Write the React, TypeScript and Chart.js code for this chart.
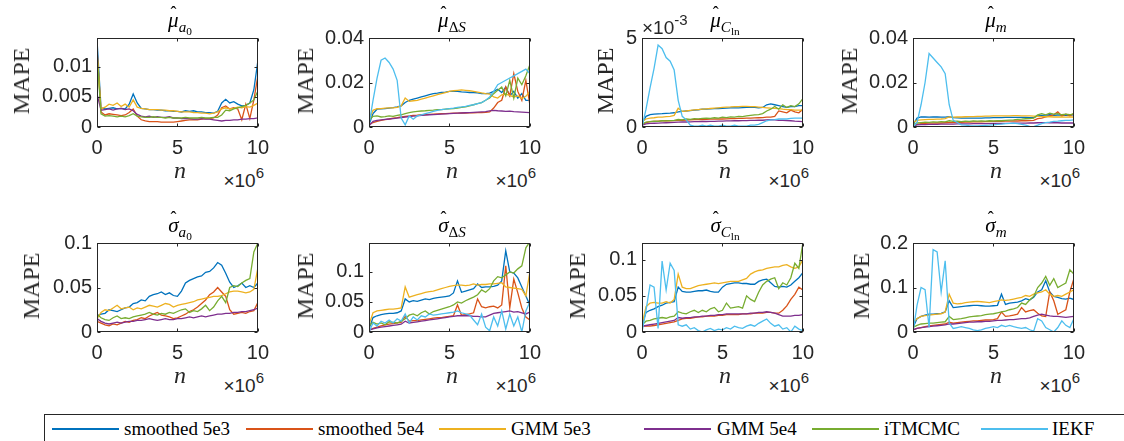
import React, { useEffect, useRef } from 'react';
import { Chart, registerables } from 'chart.js';

Chart.register(...registerables);

// ---------------- data ----------------
const nValues = [0, 0.25, 0.5, 0.75, 1, 1.25, 1.5, 1.75, 2, 2.25, 2.5, 2.75, 3, 3.25, 3.5, 3.75, 4, 4.25, 4.5, 4.75, 5, 5.25, 5.5, 5.75, 6, 6.25, 6.5, 6.75, 7, 7.25, 7.5, 7.75, 8, 8.25, 8.5, 8.75, 9, 9.25, 9.5, 9.75, 10];
const xTicks = [0, 5, 10];
const seriesNames = ['smoothed 5e3', 'smoothed 5e4', 'GMM 5e3', 'GMM 5e4', 'iTMCMC', 'IEKF'];
const seriesColors = ['#0072BD', '#D95319', '#EDB120', '#7E2F8E', '#77AC30', '#4DBEEE'];

// mu_a0
const muA0_s5e3 = [0.0145, 0.0032, 0.0030, 0.0031, 0.0032, 0.0030, 0.0031, 0.0030, 0.0038, 0.0055, 0.0040, 0.0031, 0.0030, 0.0029, 0.0029, 0.0028, 0.0028, 0.0027, 0.0027, 0.0026, 0.0026, 0.0025, 0.0027, 0.0026, 0.0027, 0.0025, 0.0025, 0.0024, 0.0024, 0.0023, 0.0026, 0.0040, 0.0046, 0.0040, 0.0042, 0.0038, 0.0035, 0.0036, 0.0040, 0.0062, 0.0110];
const muA0_s5e4 = [0.0130, 0.0025, 0.0020, 0.0022, 0.0021, 0.0020, 0.0019, 0.0020, 0.0024, 0.0030, 0.0018, 0.0012, 0.0010, 0.0009, 0.0009, 0.0009, 0.0008, 0.0008, 0.0008, 0.0008, 0.0009, 0.0010, 0.0011, 0.0012, 0.0012, 0.0012, 0.0013, 0.0014, 0.0014, 0.0015, 0.0020, 0.0032, 0.0035, 0.0030, 0.0032, 0.0030, 0.0012, 0.0038, 0.0014, 0.0045, 0.0085];
const muA0_g5e3 = [0.0125, 0.0030, 0.0033, 0.0038, 0.0036, 0.0040, 0.0034, 0.0038, 0.0033, 0.0045, 0.0033, 0.0031, 0.0030, 0.0029, 0.0029, 0.0029, 0.0028, 0.0028, 0.0027, 0.0027, 0.0026, 0.0025, 0.0025, 0.0025, 0.0024, 0.0024, 0.0023, 0.0023, 0.0022, 0.0023, 0.0025, 0.0030, 0.0032, 0.0030, 0.0031, 0.0033, 0.0032, 0.0034, 0.0033, 0.0036, 0.0040];
const muA0_g5e4 = [0.0055, 0.0028, 0.0029, 0.0030, 0.0028, 0.0030, 0.0031, 0.0029, 0.0030, 0.0027, 0.0021, 0.0018, 0.0017, 0.0018, 0.0016, 0.0017, 0.0016, 0.0016, 0.0017, 0.0015, 0.0015, 0.0014, 0.0014, 0.0014, 0.0013, 0.0013, 0.0014, 0.0013, 0.0013, 0.0012, 0.0011, 0.0010, 0.0011, 0.0011, 0.0012, 0.0012, 0.0013, 0.0013, 0.0014, 0.0014, 0.0015];
const muA0_itm = [0.0120, 0.0022, 0.0018, 0.0019, 0.0018, 0.0017, 0.0018, 0.0017, 0.0019, 0.0022, 0.0018, 0.0017, 0.0016, 0.0016, 0.0017, 0.0016, 0.0016, 0.0015, 0.0016, 0.0015, 0.0015, 0.0015, 0.0016, 0.0015, 0.0015, 0.0015, 0.0016, 0.0015, 0.0015, 0.0016, 0.0016, 0.0020, 0.0028, 0.0027, 0.0030, 0.0032, 0.0034, 0.0036, 0.0040, 0.0045, 0.0060];
const muA0_iekf: number[] = [];

// mu_dS
const muDS_s5e3 = [0.001, 0.006, 0.008, 0.0082, 0.0083, 0.0085, 0.0087, 0.009, 0.0095, 0.011, 0.012, 0.0125, 0.013, 0.0135, 0.014, 0.0145, 0.015, 0.0152, 0.0155, 0.0157, 0.016, 0.016, 0.016, 0.0158, 0.0157, 0.0155, 0.0155, 0.0153, 0.015, 0.015, 0.0152, 0.016, 0.017, 0.0155, 0.018, 0.014, 0.016, 0.013, 0.015, 0.012, 0.012];
const muDS_s5e4 = [0.001, 0.002, 0.0025, 0.003, 0.0033, 0.0036, 0.004, 0.0042, 0.0045, 0.0048, 0.005, 0.0052, 0.0053, 0.0055, 0.0056, 0.0057, 0.0058, 0.0059, 0.006, 0.006, 0.0061, 0.0062, 0.0062, 0.0063, 0.0063, 0.0064, 0.0064, 0.0065, 0.0065, 0.0066, 0.0068, 0.0085, 0.011, 0.012, 0.018, 0.014, 0.024, 0.016, 0.012, 0.021, 0.010];
const muDS_g5e3 = [0.003, 0.0075, 0.0082, 0.0083, 0.0085, 0.0086, 0.0086, 0.0088, 0.0095, 0.013, 0.0115, 0.0118, 0.012, 0.0125, 0.013, 0.0135, 0.014, 0.0145, 0.015, 0.0155, 0.016, 0.0163, 0.0165, 0.0167, 0.0165, 0.0163, 0.016, 0.0157, 0.0153, 0.015, 0.0148, 0.0135, 0.013, 0.0145, 0.0148, 0.0142, 0.0135, 0.014, 0.0128, 0.0138, 0.016];
const muDS_g5e4 = [0.0005, 0.0025, 0.003, 0.0032, 0.0034, 0.0036, 0.0038, 0.004, 0.0042, 0.0045, 0.0047, 0.0049, 0.005, 0.0052, 0.0053, 0.0055, 0.0056, 0.0057, 0.0058, 0.0059, 0.006, 0.0061, 0.0062, 0.0063, 0.0064, 0.0065, 0.0066, 0.0067, 0.0068, 0.0069, 0.0072, 0.0075, 0.0073, 0.0072, 0.007, 0.0071, 0.0069, 0.0068, 0.0067, 0.0066, 0.0065];
const muDS_itm = [0.003, 0.0048, 0.005, 0.0045, 0.0047, 0.005, 0.0048, 0.0052, 0.0055, 0.006, 0.0065, 0.0068, 0.007, 0.0072, 0.0073, 0.0075, 0.0076, 0.0078, 0.0078, 0.008, 0.0082, 0.0083, 0.0085, 0.0088, 0.009, 0.0095, 0.01, 0.0105, 0.011, 0.012, 0.013, 0.015, 0.0165, 0.018, 0.014, 0.021, 0.013, 0.022, 0.019, 0.023, 0.028];
const muDS_iekf = [0.001, 0.012, 0.022, 0.03, 0.031, 0.029, 0.026, 0.021, 0.004, 0.001, 0.005, 0.0035, 0.005, 0.0055, 0.006, 0.0065, 0.007, 0.0075, 0.0078, 0.008, 0.0083, 0.0085, 0.0088, 0.009, 0.0093, 0.0097, 0.01, 0.0105, 0.011, 0.012, 0.0135, 0.016, 0.019, 0.02, 0.021, 0.022, 0.023, 0.024, 0.025, 0.026, 0.024];

// mu_Cln (in units of 1e-3)
const muCln_s5e3 = [0.2, 0.6, 0.7, 0.72, 0.74, 0.75, 0.77, 0.78, 0.8, 0.85, 0.88, 0.9, 0.92, 0.95, 0.97, 1.0, 1.0, 1.02, 1.03, 1.04, 1.05, 1.06, 1.07, 1.08, 1.08, 1.09, 1.1, 1.1, 1.1, 1.08, 1.1, 1.25, 1.3, 1.25, 1.2, 1.15, 1.1, 1.15, 1.15, 1.2, 1.2];
const muCln_s5e4 = [0.1, 0.25, 0.3, 0.32, 0.33, 0.34, 0.35, 0.35, 0.36, 0.37, 0.38, 0.39, 0.4, 0.41, 0.42, 0.42, 0.43, 0.44, 0.44, 0.45, 0.45, 0.46, 0.47, 0.47, 0.48, 0.49, 0.5, 0.5, 0.51, 0.52, 0.53, 0.55, 0.56, 0.6, 0.9, 0.85, 0.8, 0.95, 0.85, 0.8, 1.0];
const muCln_g5e3 = [0.3, 0.45, 0.5, 0.52, 0.55, 0.56, 0.58, 0.6, 0.65, 1.05, 0.88, 0.9, 0.93, 0.96, 0.98, 1.0, 1.02, 1.04, 1.06, 1.08, 1.1, 1.12, 1.13, 1.15, 1.15, 1.16, 1.16, 1.15, 1.14, 1.12, 1.1, 1.08, 1.06, 1.05, 1.03, 1.0, 0.98, 0.98, 0.95, 0.95, 0.95];
const muCln_g5e4 = [0.1, 0.18, 0.2, 0.21, 0.22, 0.23, 0.24, 0.25, 0.26, 0.27, 0.28, 0.28, 0.29, 0.3, 0.3, 0.31, 0.31, 0.32, 0.32, 0.33, 0.33, 0.34, 0.34, 0.35, 0.35, 0.36, 0.36, 0.37, 0.37, 0.38, 0.38, 0.4, 0.41, 0.4, 0.38, 0.37, 0.36, 0.35, 0.33, 0.32, 0.3];
const muCln_itm = [0.15, 0.28, 0.3, 0.33, 0.32, 0.35, 0.34, 0.36, 0.37, 0.42, 0.4, 0.45, 0.43, 0.47, 0.46, 0.48, 0.5, 0.49, 0.52, 0.5, 0.55, 0.53, 0.57, 0.55, 0.6, 0.58, 0.62, 0.65, 0.68, 0.7, 0.75, 0.9, 1.0, 1.15, 1.0, 1.25, 1.1, 1.2, 1.15, 1.3, 1.6];
const muCln_iekf = [0.0, 1.0, 2.2, 3.3, 4.6, 4.4, 3.9, 3.7, 3.2, 1.5, 0.6, 0.4, 0.1, 0.05, 0.05, 0.1, 0.05, 0.1, 0.05, 0.05, 0.1, 0.05, 0.05, 0.1, 0.05, 0.05, 0.05, 0.1, 0.1, 0.15, 0.25, 0.35, 0.4, 0.42, 0.45, 0.45, 0.45, 0.48, 0.5, 0.5, 0.5];

// mu_m
const muM_s5e3 = [0.001, 0.004, 0.0045, 0.0045, 0.0044, 0.0045, 0.0045, 0.0044, 0.0044, 0.0046, 0.0042, 0.0041, 0.004, 0.004, 0.004, 0.004, 0.004, 0.004, 0.0041, 0.0041, 0.0042, 0.0042, 0.0042, 0.0043, 0.0043, 0.0043, 0.0043, 0.0043, 0.0043, 0.0042, 0.0042, 0.005, 0.0052, 0.0053, 0.0055, 0.0052, 0.0054, 0.0053, 0.0052, 0.0054, 0.0055];
const muM_s5e4 = [0.0005, 0.0012, 0.0015, 0.0016, 0.0017, 0.0017, 0.0018, 0.0018, 0.0019, 0.002, 0.002, 0.0021, 0.0021, 0.0022, 0.0022, 0.0023, 0.0023, 0.0023, 0.0024, 0.0024, 0.0025, 0.0025, 0.0025, 0.0026, 0.0026, 0.0027, 0.0027, 0.0028, 0.0028, 0.0029, 0.003, 0.0038, 0.004, 0.0045, 0.005, 0.0055, 0.0068, 0.005, 0.0058, 0.005, 0.006];
const muM_g5e3 = [0.002, 0.003, 0.0032, 0.0033, 0.0034, 0.0034, 0.0035, 0.0036, 0.0038, 0.0045, 0.0044, 0.0045, 0.0045, 0.0046, 0.0047, 0.0047, 0.0048, 0.0048, 0.0049, 0.0049, 0.005, 0.005, 0.005, 0.005, 0.005, 0.0051, 0.0051, 0.005, 0.005, 0.005, 0.0049, 0.0048, 0.0047, 0.0046, 0.0046, 0.0045, 0.0045, 0.0045, 0.0044, 0.0045, 0.0045];
const muM_g5e4 = [0.0005, 0.001, 0.0011, 0.0011, 0.0012, 0.0012, 0.0012, 0.0013, 0.0013, 0.0013, 0.0013, 0.0014, 0.0014, 0.0014, 0.0014, 0.0015, 0.0015, 0.0015, 0.0015, 0.0015, 0.0016, 0.0016, 0.0016, 0.0016, 0.0016, 0.0017, 0.0017, 0.0017, 0.0017, 0.0018, 0.0018, 0.0019, 0.002, 0.002, 0.0019, 0.0019, 0.0019, 0.0018, 0.0018, 0.0018, 0.0018];
const muM_itm = [0.001, 0.0018, 0.002, 0.0022, 0.0021, 0.0023, 0.0022, 0.0024, 0.0023, 0.0028, 0.0025, 0.0026, 0.0024, 0.0026, 0.0025, 0.0027, 0.0026, 0.0027, 0.0026, 0.0028, 0.0027, 0.0029, 0.0028, 0.003, 0.0031, 0.0032, 0.0034, 0.0035, 0.0037, 0.0038, 0.004, 0.0055, 0.006, 0.0055, 0.0062, 0.0058, 0.006, 0.0055, 0.0058, 0.0055, 0.006];
const muM_iekf = [0.0, 0.002, 0.01, 0.02, 0.033, 0.031, 0.029, 0.027, 0.024, 0.01, 0.003, 0.002, 0.001, 0.0008, 0.0006, 0.0005, 0.0005, 0.0006, 0.0007, 0.0008, 0.001, 0.0012, 0.0013, 0.0015, 0.0016, 0.0017, 0.0015, 0.0012, 0.0008, 0.0003, 0.0002, 0.0008, 0.0015, 0.002, 0.0022, 0.0025, 0.0026, 0.0028, 0.003, 0.003, 0.0032];

// sigma_a0
const sgA0_s5e3 = [0.018, 0.02, 0.021, 0.025, 0.024, 0.023, 0.025, 0.027, 0.028, 0.032, 0.033, 0.036, 0.035, 0.04, 0.042, 0.043, 0.045, 0.042, 0.044, 0.041, 0.04, 0.046, 0.055, 0.058, 0.06, 0.062, 0.063, 0.067, 0.068, 0.072, 0.078, 0.075, 0.066, 0.056, 0.05, 0.052, 0.055, 0.05, 0.052, 0.05, 0.055];
const sgA0_s5e4 = [0.012, 0.01, 0.008, 0.007, 0.009, 0.008, 0.01, 0.012, 0.011, 0.013, 0.014, 0.016, 0.015, 0.018, 0.02, 0.022, 0.019, 0.018, 0.017, 0.015, 0.016, 0.018, 0.02, 0.023, 0.025, 0.028, 0.032, 0.036, 0.042, 0.045, 0.05, 0.045, 0.04, 0.025, 0.02, 0.021, 0.022, 0.021, 0.023, 0.024, 0.033];
const sgA0_g5e3 = [0.015, 0.022, 0.025, 0.024, 0.027, 0.03, 0.026, 0.027, 0.028, 0.025, 0.027, 0.026, 0.028, 0.03, 0.029, 0.028, 0.03, 0.032, 0.031, 0.028, 0.03, 0.031, 0.032, 0.033, 0.034, 0.036, 0.037, 0.038, 0.039, 0.04, 0.04, 0.041, 0.043, 0.045, 0.046, 0.046, 0.045, 0.044, 0.045, 0.048, 0.072];
const sgA0_g5e4 = [0.015, 0.012, 0.01, 0.009, 0.01, 0.011, 0.01, 0.011, 0.012, 0.012, 0.013, 0.013, 0.014, 0.015, 0.014, 0.013, 0.014, 0.015, 0.014, 0.014, 0.015, 0.015, 0.016, 0.017, 0.016, 0.017, 0.018, 0.017, 0.018, 0.019, 0.02, 0.02, 0.021, 0.021, 0.022, 0.022, 0.023, 0.023, 0.024, 0.025, 0.027];
const sgA0_itm = [0.02, 0.016, 0.014, 0.013, 0.016, 0.018, 0.015, 0.016, 0.015, 0.017, 0.018, 0.019, 0.02, 0.022, 0.02, 0.019, 0.021, 0.02, 0.022, 0.021, 0.023, 0.025, 0.026, 0.022, 0.024, 0.023, 0.026, 0.03, 0.024, 0.028, 0.035, 0.04, 0.033, 0.05, 0.052, 0.051, 0.055, 0.058, 0.06, 0.09, 0.1];
const sgA0_iekf: number[] = [];

// sigma_dS
const sgDS_s5e3 = [0.005, 0.024, 0.027, 0.029, 0.03, 0.031, 0.031, 0.032, 0.035, 0.055, 0.05, 0.052, 0.051, 0.053, 0.055, 0.054, 0.056, 0.057, 0.058, 0.059, 0.06, 0.065, 0.085, 0.066, 0.068, 0.07, 0.072, 0.08, 0.074, 0.075, 0.075, 0.076, 0.078, 0.085, 0.135, 0.1, 0.098, 0.09, 0.075, 0.06, 0.045];
const sgDS_s5e4 = [0.003, 0.006, 0.008, 0.01, 0.012, 0.013, 0.014, 0.015, 0.016, 0.026, 0.018, 0.019, 0.019, 0.02, 0.021, 0.022, 0.023, 0.024, 0.024, 0.025, 0.026, 0.027, 0.045, 0.028, 0.029, 0.03, 0.032, 0.055, 0.042, 0.04, 0.042, 0.043, 0.04, 0.045, 0.11, 0.04, 0.088, 0.065, 0.04, 0.025, 0.02];
const sgDS_g5e3 = [0.012, 0.032, 0.035, 0.036, 0.037, 0.038, 0.038, 0.039, 0.04, 0.075, 0.058, 0.06, 0.062, 0.064, 0.066, 0.067, 0.068, 0.07, 0.072, 0.074, 0.076, 0.077, 0.078, 0.078, 0.077, 0.078, 0.08, 0.078, 0.079, 0.079, 0.08, 0.08, 0.081, 0.082, 0.075, 0.074, 0.073, 0.072, 0.071, 0.06, 0.1];
const sgDS_g5e4 = [0.003, 0.005, 0.007, 0.008, 0.009, 0.01, 0.011, 0.012, 0.013, 0.018, 0.015, 0.016, 0.017, 0.018, 0.019, 0.02, 0.021, 0.022, 0.023, 0.024, 0.025, 0.026, 0.027, 0.027, 0.027, 0.027, 0.026, 0.026, 0.025, 0.025, 0.028, 0.031, 0.032, 0.033, 0.034, 0.035, 0.033, 0.034, 0.032, 0.03, 0.033];
const sgDS_itm = [0.01, 0.016, 0.013, 0.015, 0.012, 0.017, 0.016, 0.015, 0.018, 0.022, 0.028, 0.03, 0.027, 0.032, 0.035, 0.03, 0.034, 0.036, 0.038, 0.04, 0.042, 0.045, 0.05, 0.048, 0.052, 0.055, 0.058, 0.062, 0.07, 0.066, 0.072, 0.085, 0.092, 0.09, 0.095, 0.1, 0.098, 0.105, 0.11, 0.14, 0.15];
const sgDS_iekf = [0.0, 0.015, 0.01, 0.018, 0.015, 0.02, 0.015, 0.022, 0.018, 0.03, 0.015, 0.025, 0.02, 0.027, 0.025, 0.03, 0.028, 0.029, 0.03, 0.031, 0.032, 0.033, 0.035, 0.032, 0.03, 0.028, 0.02, 0.012, 0.03, 0.008, 0.002, 0.025, 0.01, 0.035, 0.005, 0.03, 0.01, 0.025, 0.0, 0.035, 0.05];

// sigma_Cln
const sgCln_s5e3 = [0.01, 0.027, 0.03, 0.032, 0.035, 0.037, 0.04, 0.041, 0.042, 0.062, 0.056, 0.055, 0.055, 0.056, 0.057, 0.057, 0.058, 0.056, 0.055, 0.055, 0.062, 0.066, 0.067, 0.068, 0.068, 0.067, 0.067, 0.066, 0.066, 0.07, 0.072, 0.073, 0.068, 0.063, 0.062, 0.063, 0.062, 0.065, 0.07, 0.075, 0.082];
const sgCln_s5e4 = [0.008, 0.008, 0.008, 0.009, 0.01, 0.011, 0.012, 0.013, 0.014, 0.016, 0.018, 0.019, 0.019, 0.02, 0.021, 0.021, 0.022, 0.022, 0.022, 0.023, 0.023, 0.024, 0.024, 0.024, 0.024, 0.025, 0.025, 0.025, 0.026, 0.026, 0.026, 0.027, 0.027, 0.026, 0.026, 0.03, 0.036, 0.045, 0.052, 0.062, 0.058];
const sgCln_g5e3 = [0.01, 0.035, 0.04, 0.041, 0.04, 0.04, 0.042, 0.04, 0.045, 0.08, 0.062, 0.06, 0.06, 0.062, 0.064, 0.065, 0.066, 0.067, 0.068, 0.067, 0.068, 0.069, 0.07, 0.07, 0.07, 0.072, 0.074, 0.08, 0.083, 0.085, 0.086, 0.088, 0.089, 0.09, 0.09, 0.092, 0.093, 0.09, 0.088, 0.09, 0.1];
const sgCln_g5e4 = [0.008, 0.009, 0.01, 0.011, 0.012, 0.013, 0.014, 0.015, 0.016, 0.02, 0.019, 0.02, 0.02, 0.021, 0.021, 0.022, 0.022, 0.023, 0.023, 0.024, 0.024, 0.025, 0.025, 0.025, 0.025, 0.025, 0.025, 0.026, 0.026, 0.027, 0.027, 0.028, 0.027, 0.026, 0.024, 0.022, 0.022, 0.022, 0.023, 0.023, 0.024];
const sgCln_itm = [0.01, 0.015, 0.016, 0.018, 0.019, 0.02, 0.019, 0.021, 0.022, 0.028, 0.026, 0.025, 0.028, 0.03, 0.027, 0.03, 0.028, 0.032, 0.034, 0.028, 0.03, 0.04, 0.033, 0.034, 0.035, 0.033, 0.05, 0.045, 0.042, 0.055, 0.065, 0.07, 0.073, 0.075, 0.06, 0.068, 0.065, 0.075, 0.095, 0.088, 0.123];
const sgCln_iekf = [0.0, 0.03, 0.065, 0.062, 0.005, 0.098, 0.058, 0.095, 0.085, 0.01, 0.008, 0.01, 0.004, 0.006, 0.002, 0.0, 0.003, 0.005, 0.002, 0.004, 0.003, 0.006, 0.004, 0.008, 0.006, 0.005, 0.008, 0.01, 0.008, 0.012, 0.015, 0.018, 0.012, 0.008, 0.01, 0.004, 0.006, 0.0, 0.008, 0.004, 0.002];

// sigma_m
const sgM_s5e3 = [0.01, 0.03, 0.035, 0.038, 0.04, 0.04, 0.041, 0.042, 0.045, 0.07, 0.055, 0.056, 0.057, 0.058, 0.059, 0.06, 0.06, 0.059, 0.058, 0.058, 0.059, 0.06, 0.085, 0.062, 0.065, 0.066, 0.067, 0.07, 0.075, 0.072, 0.078, 0.09, 0.095, 0.115, 0.09, 0.08, 0.078, 0.075, 0.074, 0.076, 0.073];
const sgM_s5e4 = [0.005, 0.008, 0.01, 0.012, 0.014, 0.015, 0.016, 0.017, 0.018, 0.022, 0.02, 0.021, 0.022, 0.023, 0.024, 0.025, 0.025, 0.026, 0.027, 0.027, 0.028, 0.03, 0.045, 0.035, 0.036, 0.038, 0.04, 0.055, 0.045, 0.048, 0.05, 0.042, 0.036, 0.035, 0.09, 0.07, 0.04, 0.045, 0.05, 0.09, 0.12];
const sgM_g5e3 = [0.02, 0.03, 0.035, 0.037, 0.038, 0.039, 0.04, 0.041, 0.045, 0.085, 0.065, 0.063, 0.064, 0.066, 0.067, 0.068, 0.069, 0.068, 0.067, 0.066, 0.068, 0.07, 0.072, 0.071, 0.072, 0.074, 0.076, 0.078, 0.082, 0.08, 0.085, 0.088, 0.09, 0.095, 0.085, 0.08, 0.082, 0.08, 0.085, 0.09, 0.095];
const sgM_g5e4 = [0.005, 0.008, 0.01, 0.011, 0.012, 0.013, 0.014, 0.015, 0.016, 0.018, 0.018, 0.019, 0.02, 0.021, 0.022, 0.022, 0.023, 0.023, 0.024, 0.024, 0.025, 0.026, 0.026, 0.027, 0.028, 0.028, 0.029, 0.03, 0.03, 0.032, 0.035, 0.038, 0.04, 0.038, 0.036, 0.035, 0.035, 0.034, 0.033, 0.034, 0.035];
const sgM_itm = [0.01, 0.015, 0.018, 0.019, 0.02, 0.02, 0.021, 0.022, 0.023, 0.035, 0.028, 0.029, 0.03, 0.032, 0.034, 0.035, 0.036, 0.037, 0.039, 0.04, 0.041, 0.043, 0.045, 0.047, 0.05, 0.052, 0.055, 0.065, 0.062, 0.072, 0.08, 0.1, 0.11, 0.125, 0.105, 0.12, 0.1, 0.105, 0.11, 0.14, 0.13];
const sgM_iekf = [0.0, 0.06, 0.1, 0.095, 0.01, 0.185, 0.18, 0.09, 0.16, 0.02, 0.008, 0.01, 0.012, 0.01, 0.008, 0.005, 0.003, 0.005, 0.008, 0.01, 0.012, 0.01, 0.015, 0.012, 0.015, 0.012, 0.01, 0.008, 0.01, 0.005, 0.002, 0.03, 0.025, 0.01, 0.005, 0.0, 0.01, 0.025, 0.015, 0.01, 0.03];

// y-axis ticks
const yTicksMuA0 = [0, 0.005, 0.01];
const yTicksMuDS = [0, 0.02, 0.04];
const yTicksMuCln = [0, 5];
const yTicksMuM = [0, 0.02, 0.04];
const yTicksSgA0 = [0, 0.05, 0.1];
const yTicksSgDS = [0, 0.05, 0.1];
const yTicksSgCln = [0, 0.05, 0.1];
const yTicksSgM = [0, 0.1, 0.2];

// ---------------- styling / layout ----------------
const AXIS_COLOR = '#262626';
const SANS = "'Liberation Sans', Arial, Helvetica, sans-serif";
const SERIF = "'Liberation Serif', 'Times New Roman', serif";
const PAD_L = 70;
const PAD_T = 15;
const PAD_R = 15;
const PAD_B = 30;
const PLOT_W = 166;
const PLOT_H = 91;

const boxPlugin = {
  id: 'matlabBox',
  afterDatasetsDraw(chart: any) {
    const { ctx, chartArea: a, scales } = chart;
    ctx.save();
    ctx.strokeStyle = AXIS_COLOR;
    ctx.lineWidth = 1;
    const l = Math.round(a.left) + 0.5;
    const r = Math.round(a.right) - 0.5;
    const t = Math.round(a.top) + 0.5;
    const b = Math.round(a.bottom) - 0.5;
    ctx.strokeRect(l, t, r - l, b - t);
    const tl = 3;
    ctx.beginPath();
    scales.x.ticks.forEach((tk: any) => {
      const px = Math.round(scales.x.getPixelForValue(tk.value)) + 0.5;
      ctx.moveTo(px, b); ctx.lineTo(px, b - tl);
      ctx.moveTo(px, t); ctx.lineTo(px, t + tl);
    });
    scales.y.ticks.forEach((tk: any) => {
      const py = Math.round(scales.y.getPixelForValue(tk.value)) + 0.5;
      ctx.moveTo(l, py); ctx.lineTo(l + tl, py);
      ctx.moveTo(r, py); ctx.lineTo(r - tl, py);
    });
    ctx.stroke();
    ctx.restore();
  },
};

const Hat = ({ ch }: { ch: string }) => (
  <span style={{ position: 'relative', display: 'inline-block' }}>
    {ch}
    <span style={{ position: 'absolute', left: '52%', top: '-0.38em', transform: 'translateX(-50%)', fontStyle: 'normal', fontSize: '0.85em' }}>ˆ</span>
  </span>
);
const Sub = ({ children }: { children: any }) => (
  <span style={{ fontSize: '0.72em', verticalAlign: '-0.32em' }}>{children}</span>
);

const subA0 = <Sub><i>a</i><span style={{ fontSize: '0.75em', verticalAlign: '-0.25em', fontStyle: 'normal' }}>0</span></Sub>;
const subDS = <Sub><span style={{ fontStyle: 'normal' }}>Δ</span><i>S</i></Sub>;
const subCln = <Sub><i>C</i><span style={{ fontSize: '0.75em', verticalAlign: '-0.25em', fontStyle: 'normal' }}>ln</span></Sub>;
const subM = <Sub><i>m</i></Sub>;

const panels = [
  { sym: 'μ', sub: subA0, series: [muA0_s5e3, muA0_s5e4, muA0_g5e3, muA0_g5e4, muA0_itm, muA0_iekf], yMax: 0.0148, yTicks: yTicksMuA0, left: 97, top: 36, mapeX: 21, exp: false },
  { sym: 'μ', sub: subDS, series: [muDS_s5e3, muDS_s5e4, muDS_g5e3, muDS_g5e4, muDS_itm, muDS_iekf], yMax: 0.04, yTicks: yTicksMuDS, left: 369, top: 36, mapeX: 305, exp: false },
  { sym: 'μ', sub: subCln, series: [muCln_s5e3, muCln_s5e4, muCln_g5e3, muCln_g5e4, muCln_itm, muCln_iekf], yMax: 5, yTicks: yTicksMuCln, left: 642, top: 36, mapeX: 605, exp: true },
  { sym: 'μ', sub: subM, series: [muM_s5e3, muM_s5e4, muM_g5e3, muM_g5e4, muM_itm, muM_iekf], yMax: 0.04, yTicks: yTicksMuM, left: 913, top: 36, mapeX: 849, exp: false },
  { sym: 'σ', sub: subA0, series: [sgA0_s5e3, sgA0_s5e4, sgA0_g5e3, sgA0_g5e4, sgA0_itm, sgA0_iekf], yMax: 0.1, yTicks: yTicksSgA0, left: 97, top: 241, mapeX: 31, exp: false },
  { sym: 'σ', sub: subDS, series: [sgDS_s5e3, sgDS_s5e4, sgDS_g5e3, sgDS_g5e4, sgDS_itm, sgDS_iekf], yMax: 0.148, yTicks: yTicksSgDS, left: 369, top: 241, mapeX: 305, exp: false },
  { sym: 'σ', sub: subCln, series: [sgCln_s5e3, sgCln_s5e4, sgCln_g5e3, sgCln_g5e4, sgCln_itm, sgCln_iekf], yMax: 0.123, yTicks: yTicksSgCln, left: 642, top: 241, mapeX: 577, exp: false },
  { sym: 'σ', sub: subM, series: [sgM_s5e3, sgM_s5e4, sgM_g5e3, sgM_g5e4, sgM_itm, sgM_iekf], yMax: 0.2, yTicks: yTicksSgM, left: 913, top: 241, mapeX: 861, exp: false },
];

const legendPos = [
  { line: 52, text: 124 },
  { line: 246, text: 318 },
  { line: 439, text: 511 },
  { line: 644, text: 717 },
  { line: 812, text: 884 },
  { line: 981, text: 1052 },
];

function Panel({ p }: { p: any }) {
  const ref = useRef<HTMLCanvasElement>(null);
  useEffect(() => {
    if (!ref.current) return;
    const datasets = p.series.map((s: number[], i: number) => ({
      label: seriesNames[i],
      data: s.map((v, j) => ({ x: nValues[j], y: v })),
      borderColor: seriesColors[i],
      backgroundColor: seriesColors[i],
      borderWidth: 1.3,
      pointRadius: 0,
      tension: 0,
      fill: false,
      order: 5 - i,
    }));
    const tickFont = { family: SANS, size: 20 };
    const chart = new Chart(ref.current, {
      type: 'line',
      data: { datasets },
      options: {
        animation: false,
        responsive: false,
        maintainAspectRatio: false,
        events: [],
        layout: { padding: { left: 0, top: PAD_T, right: PAD_R, bottom: 0 } },
        plugins: { legend: { display: false }, tooltip: { enabled: false }, title: { display: false } },
        scales: {
          x: {
            type: 'linear', min: 0, max: 10,
            afterBuildTicks: (s: any) => { s.ticks = xTicks.map((v) => ({ value: v })); },
            afterFit: (s: any) => { s.height = PAD_B; },
            grid: { display: false, drawTicks: false },
            border: { display: false },
            ticks: { font: tickFont, color: AXIS_COLOR, padding: 9, maxRotation: 0, autoSkip: false, callback: (v: any) => String(v) },
          },
          y: {
            type: 'linear', min: 0, max: p.yMax,
            afterBuildTicks: (s: any) => { s.ticks = p.yTicks.map((v: number) => ({ value: v })); },
            afterFit: (s: any) => { s.width = PAD_L; },
            grid: { display: false, drawTicks: false },
            border: { display: false },
            ticks: { font: tickFont, color: AXIS_COLOR, padding: 5, autoSkip: false, callback: (v: any) => String(v) },
          },
        },
      } as any,
      plugins: [boxPlugin],
    });
    return () => chart.destroy();
  }, [p]);

  const cx = p.left + PLOT_W / 2;
  const right = p.left + PLOT_W;
  return (
    <>
      <canvas
        ref={ref}
        width={PAD_L + PLOT_W + PAD_R}
        height={PAD_T + PLOT_H + PAD_B}
        style={{ position: 'absolute', left: p.left - PAD_L, top: p.top - PAD_T, width: PAD_L + PLOT_W + PAD_R, height: PAD_T + PLOT_H + PAD_B }}
      />
      <div style={{ position: 'absolute', left: cx, top: p.top - 26, transform: 'translateX(-50%)', fontFamily: SERIF, fontStyle: 'italic', fontSize: 21, lineHeight: '21px', color: '#000', whiteSpace: 'nowrap' }}>
        <Hat ch={p.sym} />{p.sub}
      </div>
      <div style={{ position: 'absolute', left: p.mapeX, top: p.top + 45, transform: 'translate(-50%, -50%) rotate(-90deg)', fontFamily: SERIF, fontSize: 24, lineHeight: '24px', color: AXIS_COLOR, whiteSpace: 'nowrap' }}>
        MAPE
      </div>
      <div style={{ position: 'absolute', left: cx, top: p.top + 122, transform: 'translateX(-50%)', fontFamily: SERIF, fontStyle: 'italic', fontSize: 24, lineHeight: '24px', color: AXIS_COLOR }}>
        n
      </div>
      <div style={{ position: 'absolute', left: right + 1, top: p.top + 135, transform: 'translateX(-100%)', fontFamily: SANS, fontSize: 19, lineHeight: '19px', color: AXIS_COLOR, whiteSpace: 'nowrap' }}>
        ×10<span style={{ fontSize: 15, position: 'relative', top: -9 }}>6</span>
      </div>
      {p.exp && (
        <div style={{ position: 'absolute', left: p.left, top: p.top - 18, fontFamily: SANS, fontSize: 19, lineHeight: '19px', color: AXIS_COLOR, whiteSpace: 'nowrap' }}>
          ×10<span style={{ fontSize: 15, position: 'relative', top: -9 }}>-3</span>
        </div>
      )}
    </>
  );
}

export default function App() {
  return (
    <div style={{ position: 'absolute', left: 0, top: 0, width: 1124, height: 441, overflow: 'hidden', background: '#fff' }}>
      {panels.map((p, i) => <Panel key={i} p={p} />)}
      <div style={{ position: 'absolute', left: 44, top: 414, width: 1100, height: 60, border: `1px solid ${AXIS_COLOR}`, boxSizing: 'border-box' }} />
      {seriesNames.map((name, i) => (
        <React.Fragment key={name}>
          <div style={{ position: 'absolute', left: legendPos[i].line, top: 428, width: 67, height: 0, borderTop: `2px solid ${seriesColors[i]}` }} />
          <div style={{ position: 'absolute', left: legendPos[i].text, top: 419, fontFamily: SERIF, fontSize: 19, lineHeight: '19px', color: '#000', whiteSpace: 'nowrap' }}>
            {name}
          </div>
        </React.Fragment>
      ))}
    </div>
  );
}
